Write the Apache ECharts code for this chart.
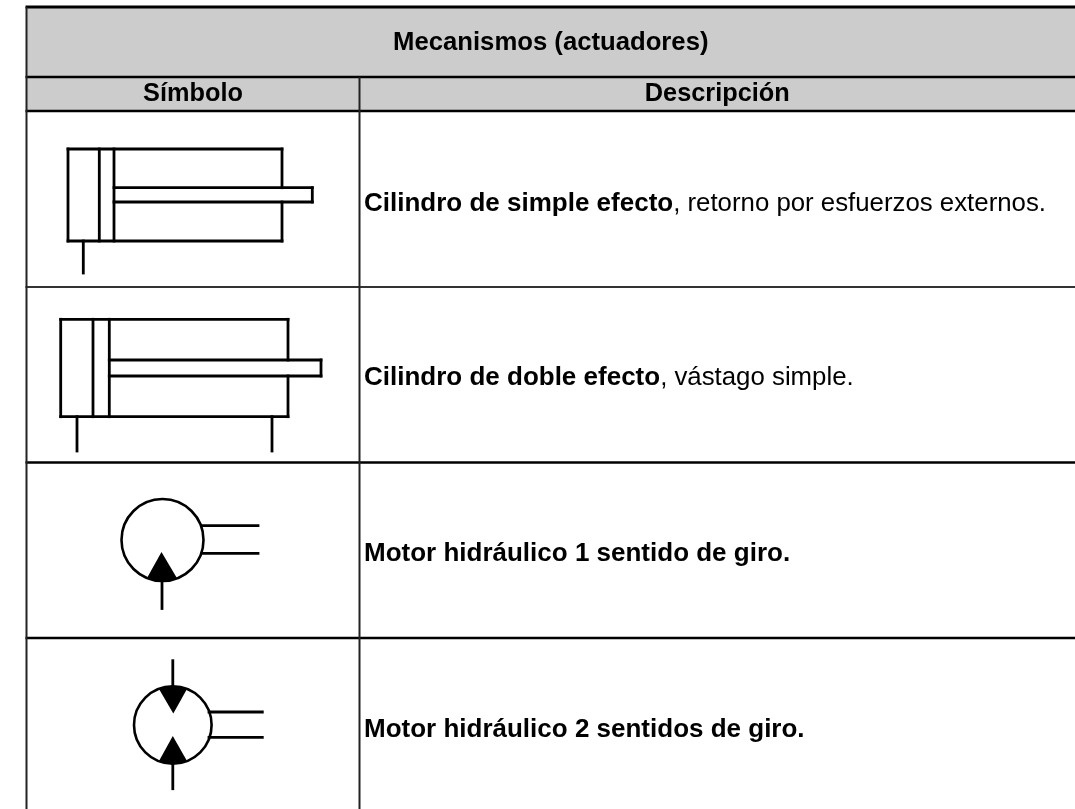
<!DOCTYPE html>
<html><head><meta charset="utf-8">
<script src="https://cdn.jsdelivr.net/npm/echarts@6/dist/echarts.min.js"></script>
<style>html,body{margin:0;padding:0;background:#fff}#c{width:1075px;height:809px}</style>
</head><body><div id="c"></div>
<script>
// Table structure
const titleText = 'Mecanismos (actuadores)';
const columnHeaders = ['Símbolo', 'Descripción'];
const boldParts = ['Cilindro de simple efecto', 'Cilindro de doble efecto', 'Motor hidráulico 1 sentido de giro.', 'Motor hidráulico 2 sentidos de giro.'];
const plainParts = [', retorno por esfuerzos externos.', ', vástago simple.', '', ''];
const columnEdges = [26.5, 359.5, 1075];
const rowEdges = [7, 77, 111, 287, 462.5, 638, 809];
const rowCentres = [204, 377.5, 553.5, 729.5];

// Symbol geometry: [x1, y1, x2, y2]
const cylinderSimple = [
  [68,149,282,149],[68,241,282,241],[68,149,68,241],[282,149,282,187.7],[282,202,282,241],
  [99.3,149,99.3,241],[114,149,114,241],
  [114,187.7,312.3,187.7],[114,202,312.3,202],[312.3,187.7,312.3,202],
  [83.3,241,83.3,273]
];
const cylinderDouble = [
  [60.7,319.3,288,319.3],[60.7,416.7,288,416.7],[60.7,319.3,60.7,416.7],[288,319.3,288,360],[288,376,288,416.7],
  [93,319.3,93,416.7],[109.3,319.3,109.3,416.7],
  [109.3,360,321,360],[109.3,376,321,376],[321,360,321,376],
  [77,416.7,77,451],[272,416.7,272,451]
];
const motorOneLines = [[202,525.7,258,525.7],[202,553.3,258,553.3],[162,581,162,608.5]];
const motorTwoLines = [[209,712,262.3,712],[209,737.3,262.3,737.3],[172.8,660.7,172.8,687],[172.8,763,172.8,788.7]];
// Circles: [cx, cy, r]
const motorCircles = [[162.5,540,41],[172.8,725,38.8]];
// Filled triangles: lists of [x, y]
const motorTriangles = [
  [[161.5,552],[147,578],[155,580.3],[162.5,581],[170,580.3],[177,578.3]],
  [[173.3,713.5],[159,689],[166,687],[172.8,686.5],[180,687],[187,689]],
  [[172.8,736],[159,761],[166,763],[172.8,763.5],[180,763],[187,761]]
];

const ink = '#000000', band = '#cccccc', font = '"Liberation Sans", Arial, sans-serif';
const titleSize = 25.7, headerSize = 25.3, boldSize = 26, plainSize = 25.8;

const symbolSegments = [].concat(cylinderSimple, cylinderDouble, motorOneLines, motorTwoLines);
const gridH = [
  {y: rowEdges[0], w: 3, c: '#000'}, {y: rowEdges[1], w: 2.5, c: '#000'}, {y: rowEdges[2], w: 2.5, c: '#000'},
  {y: rowEdges[3], w: 2, c: '#333'}, {y: rowEdges[4], w: 2.5, c: '#000'}, {y: rowEdges[5], w: 2.5, c: '#000'}
];

function custom(name, data, renderItem, z) {
  return {type: 'custom', name, data, renderItem, coordinateSystem: 'cartesian2d', silent: true, z: z, clip: false,
    encode: {x: 0, y: 1}, animation: false};
}
const P = (api, x, y) => api.coord([x, y]);

const option = {
  animation: false,
  backgroundColor: '#ffffff',
  grid: {left: 0, right: 0, top: 0, bottom: 0},
  xAxis: {type: 'value', min: 0, max: 1075, show: false},
  yAxis: {type: 'value', min: 0, max: 809, inverse: true, show: false},
  series: [
    custom('bands', [[columnEdges[0], rowEdges[0], columnEdges[2], rowEdges[2]]], (p, api) => {
      const a = P(api, api.value(0), api.value(1)), b = P(api, api.value(2), api.value(3));
      return {type: 'rect', shape: {x: a[0], y: a[1], width: b[0]-a[0], height: b[1]-a[1]}, style: {fill: band}};
    }, 1),
    custom('rows', gridH.map(r => [columnEdges[0]-1, r.y, columnEdges[2], r.y]), (p, api) => {
      const a = P(api, api.value(0), api.value(1)), b = P(api, api.value(2), api.value(3));
      return {type: 'line', shape: {x1: a[0], y1: a[1], x2: b[0], y2: b[1]},
        style: {stroke: gridH[p.dataIndex].c, lineWidth: gridH[p.dataIndex].w}};
    }, 2),
    custom('cols', [[columnEdges[0], rowEdges[0], columnEdges[0], rowEdges[6]], [columnEdges[1], rowEdges[1], columnEdges[1], rowEdges[6]]], (p, api) => {
      const a = P(api, api.value(0), api.value(1)), b = P(api, api.value(2), api.value(3));
      return {type: 'line', shape: {x1: a[0], y1: a[1], x2: b[0], y2: b[1]}, style: {stroke: '#222', lineWidth: 2}};
    }, 2),
    custom('symbols', symbolSegments, (p, api) => {
      const a = P(api, api.value(0), api.value(1)), b = P(api, api.value(2), api.value(3));
      return {type: 'line', shape: {x1: a[0], y1: a[1], x2: b[0], y2: b[1]}, style: {stroke: ink, lineWidth: 2.8, lineCap: 'square'}};
    }, 3),
    custom('circles', motorCircles, (p, api) => {
      const c = P(api, api.value(0), api.value(1));
      return {type: 'circle', shape: {cx: c[0], cy: c[1], r: api.value(2)}, style: {stroke: ink, lineWidth: 2.6, fill: 'none'}};
    }, 3),
    custom('triangles', motorTriangles.map((t, i) => [t[0][0], t[0][1], i]), (p, api) => {
      const pts = motorTriangles[p.dataIndex].map(q => P(api, q[0], q[1]));
      return {type: 'polygon', shape: {points: pts}, style: {fill: ink}};
    }, 3),
    custom('headers', [[(columnEdges[0]+columnEdges[2])/2, 42.5, 0], [(columnEdges[0]+columnEdges[1])/2, 94.5, 1], [(columnEdges[1]+columnEdges[2])/2, 94.5, 2]], (p, api) => {
      const c = P(api, api.value(0), api.value(1));
      const labels = [titleText, columnHeaders[0], columnHeaders[1]];
      const size = p.dataIndex === 0 ? titleSize : headerSize;
      return {type: 'text', x: c[0], y: c[1], style: {text: labels[p.dataIndex], fill: '#000', font: 'bold ' + size + 'px ' + font, align: 'center', verticalAlign: 'middle'}};
    }, 4),
    custom('descriptions', rowCentres.map((y, i) => [columnEdges[1]+4.5, y, i]), (p, api) => {
      const c = P(api, api.value(0), api.value(1));
      const i = p.dataIndex;
      return {type: 'text', x: c[0], y: c[1], style: {
        text: '{b|' + boldParts[i] + '}{r|' + plainParts[i] + '}',
        align: 'left', verticalAlign: 'middle',
        rich: {
          b: {font: 'bold ' + boldSize + 'px ' + font, fill: '#000'},
          r: {font: plainSize + 'px ' + font, fill: '#000'}
        }
      }};
    }, 4)
  ]
};
echarts.init(document.getElementById('c'), null, {renderer: 'canvas'}).setOption(option);
</script></body></html>
